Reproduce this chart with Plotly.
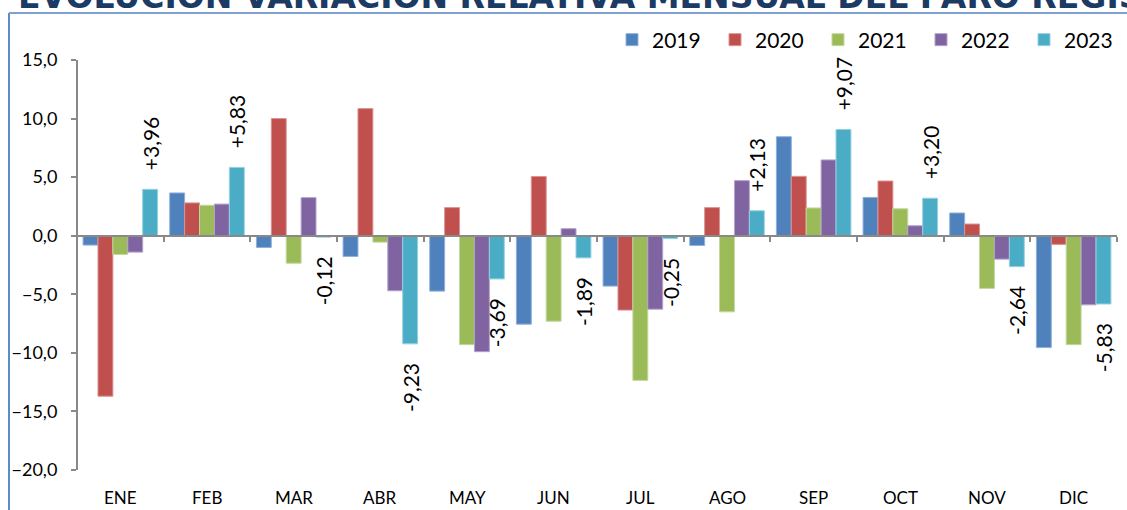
import plotly.graph_objects as go

months = ["ENE", "FEB", "MAR", "ABR", "MAY", "JUN", "JUL", "AGO", "SEP", "OCT", "NOV", "DIC"]
years = ["2019", "2020", "2021", "2022", "2023"]
v2019 = [-0.8, 3.65, -1.0, -1.77, -4.73, -7.55, -4.3, -0.83, 8.45, 3.27, 1.94, -9.55]
v2020 = [-13.7, 2.8, 10.0, 10.85, 2.4, 5.05, -6.35, 2.4, 5.07, 4.67, 1.0, -0.74]
v2021 = [-1.6, 2.6, -2.35, -0.55, -9.3, -7.3, -12.35, -6.5, 2.37, 2.3, -4.5, -9.3]
v2022 = [-1.4, 2.7, 3.25, -4.7, -9.9, 0.6, -6.27, 4.7, 6.47, 0.85, -2.0, -5.9]
v2023 = [3.96, 5.83, -0.12, -9.23, -3.69, -1.89, -0.25, 2.13, 9.07, 3.20, -2.64, -5.83]
series = [v2019, v2020, v2021, v2022, v2023]
colors = ["#4F81BD", "#C0504D", "#9BBB59", "#8064A2", "#4BACC6"]
edges = ["#8FB0DA", "#DA9391", "#C3D89E", "#B3A2CB", "#92D1E2"]

title = "EVOLUCIÓN VARIACIÓN RELATIVA MENSUAL DEL PARO REGISTRADO"

W, H = 1127, 510
L, R, T, B = 77, 10, 60, 40
PW, PH = W - L - R, H - T - B
def px(x):
    return (x - L) / PW
def py(y):
    return (H - B - y) / PH

YMIN, YMAX = -20, 15

def fmt(v):
    s = f"{v:+.2f}".replace(".", ",")
    pad = "\u00a0\u00a0\u00a0"
    return pad + s if v >= 0 else s + pad

fig = go.Figure()
for i, (yr, vals) in enumerate(zip(years, series)):
    kw = {}
    if yr == "2023":
        kw = dict(text=[fmt(v) for v in vals], textposition="outside",
                  textangle=-90, constraintext="none", cliponaxis=False,
                  textfont=dict(family="Lato", size=21, color="#000000"))
    fig.add_trace(go.Bar(x=months, y=vals, name=yr,
                         marker=dict(color=colors[i], line=dict(color=edges[i], width=1)),
                         **kw))

fig.update_layout(
    width=W, height=H,
    margin=dict(l=L, r=R, t=T, b=B, autoexpand=False),
    paper_bgcolor="white", plot_bgcolor="white",
    barmode="group", bargap=0.14, bargroupgap=0,
    separators=",.",
    font=dict(family="Lato", color="#000000"),
    showlegend=True,
    legend=dict(orientation="h", x=px(1127), xanchor="right", y=py(40), yanchor="middle",
                font=dict(family="Lato", size=21, color="#000000"),
                bgcolor="rgba(0,0,0,0)", traceorder="normal",
                entrywidth=58, entrywidthmode="pixels"),
    xaxis=dict(type="category", categoryorder="array", categoryarray=months,
               anchor="free", position=(0 - YMIN) / (YMAX - YMIN),
               showline=True, linecolor="#898989", linewidth=2,
               ticks="outside", tickson="boundaries", ticklen=5, tickcolor="#898989", tickwidth=2,
               showticklabels=False, showgrid=False, zeroline=False, automargin=False),
    yaxis=dict(range=[YMIN, YMAX], dtick=5, tickformat=".1f",
               anchor="free", position=0, automargin=False,
               showline=True, linecolor="#898989", linewidth=2,
               ticks="outside", ticklen=5, tickcolor="#898989", tickwidth=2,
               ticklabelstandoff=10,
               tickfont=dict(family="Lato", size=18, color="#000000"),
               showgrid=False, zeroline=False),
)

# category labels along the bottom
for m in months:
    fig.add_annotation(x=m, xref="x", y=py(497), yref="paper", text=m, showarrow=False,
                       yanchor="middle", font=dict(family="Lato", size=17, color="#000000"))

# title (cropped at top)
fig.add_annotation(x=px(16), xref="paper", y=py(18), yref="paper", text=f"<b>{title}</b>",
                   showarrow=False, xanchor="left", yanchor="bottom",
                   font=dict(family="DejaVu Sans", size=33, color="#1B3A64"))

# frame
fig.add_shape(type="line", xref="paper", yref="paper", x0=px(9), x1=px(9), y0=py(13), y1=py(515),
              line=dict(color="#5B8BC9", width=2))
fig.add_shape(type="line", xref="paper", yref="paper", x0=px(9), x1=px(1135), y0=py(13), y1=py(13),
              line=dict(color="#7FA0D0", width=2))

fig.write_html("out.html", config={"displayModeBar": False},
               post_script="document.body.style.margin='0';document.body.style.overflow='hidden';")
